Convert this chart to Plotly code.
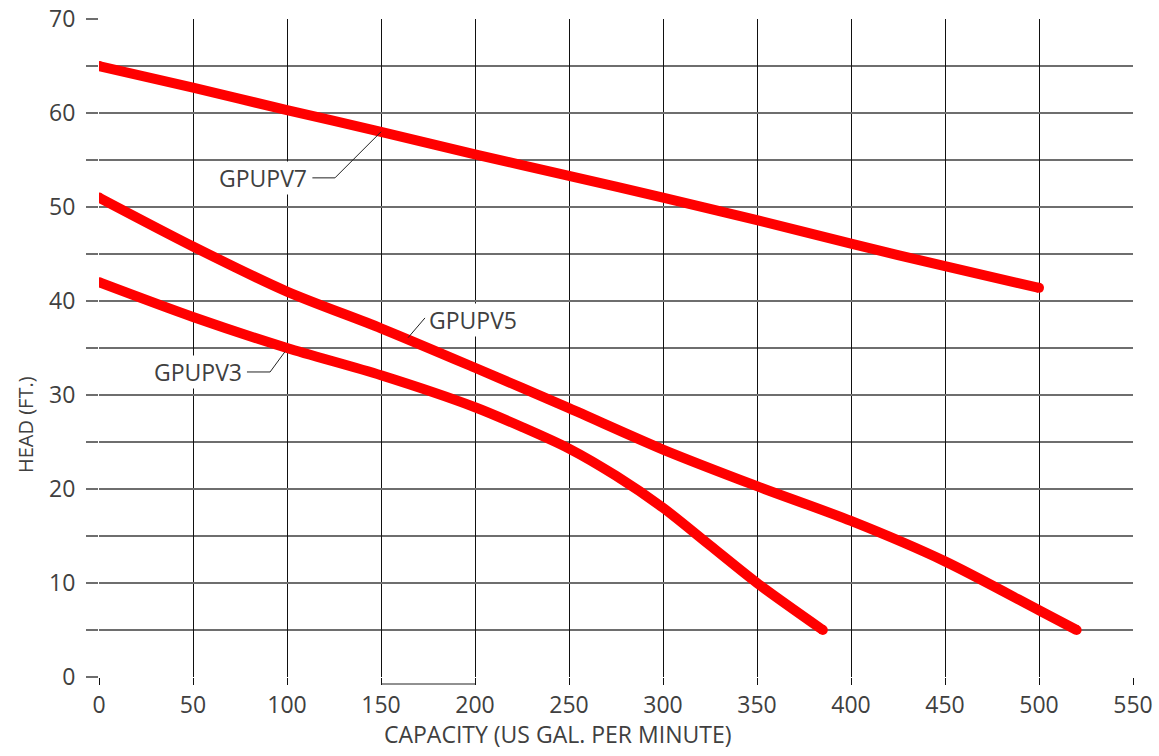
import plotly.graph_objects as go

# ---- data ----
v7_x = [0, 50, 100, 150, 200, 250, 300, 350, 400, 450, 500]
v7_y = [65, 62.7, 60.3, 58.0, 55.6, 53.3, 51.0, 48.6, 46.1, 43.7, 41.4]

v5_x = [0, 50, 100, 150, 200, 250, 300, 350, 400, 450, 500, 520]
v5_y = [51, 45.8, 41.0, 37.1, 32.9, 28.6, 24.2, 20.3, 16.6, 12.3, 7.1, 5.0]

v3_x = [0, 50, 100, 150, 200, 225, 250, 275, 300, 325, 350, 385]
v3_y = [42, 38.3, 35.0, 32.1, 28.7, 26.6, 24.3, 21.4, 18.0, 14.0, 10.0, 5.0]

series = [("GPUPV7", v7_x, v7_y), ("GPUPV5", v5_x, v5_y), ("GPUPV3", v3_x, v3_y)]

x_ticks = list(range(0, 551, 50))
y_ticks = list(range(0, 71, 10))

RED = "#ff0000"
FONT = "Open Sans"
TXT = "#404040"

fig = go.Figure()
for name, xs, ys in series:
    fig.add_trace(go.Scatter(x=xs, y=ys, mode="lines", name=name,
                             line=dict(color=RED, width=10, shape="spline", smoothing=0.8),
                             hoverinfo="skip", showlegend=False))
    fig.add_trace(go.Scatter(x=[xs[0], xs[-1]], y=[ys[0], ys[-1]], mode="markers",
                             marker=dict(color=RED, size=10), hoverinfo="skip", showlegend=False))

# leader lines for labels
fig.add_shape(type="path", path="M 113.5,53.1 L 125.5,53.1 L 150,58", xref="x", yref="y",
              line=dict(color="#222", width=1))
fig.add_shape(type="path", path="M 164.4,36.1 L 173.4,38.2", xref="x", yref="y",
              line=dict(color="#222", width=1))
fig.add_shape(type="path", path="M 78.7,32.45 L 91.0,32.45 L 98.9,34.6", xref="x", yref="y",
              line=dict(color="#222", width=1))
# small bracket under 150-200
fig.add_shape(type="line", x0=150, x1=200, xref="x", y0=-7/658, y1=-7/658, yref="paper",
              line=dict(color="#222", width=1))

lab_font = dict(family=FONT, size=23, color=TXT)
fig.add_annotation(x=111, y=53.1, text="GPUPV7", showarrow=False, xanchor="right", yanchor="middle",
                   bgcolor="white", borderpad=0, font=lab_font)
fig.add_annotation(x=175, y=38.0, text="GPUPV5", showarrow=False, xanchor="left", yanchor="middle",
                   bgcolor="white", borderpad=0, font=lab_font)
fig.add_annotation(x=76.5, y=32.45, text="GPUPV3", showarrow=False, xanchor="right", yanchor="middle",
                   bgcolor="white", borderpad=0, font=lab_font)

# axis titles
fig.add_annotation(x=244, y=-0.086, xref="x", yref="paper", text="CAPACITY (US GAL. PER MINUTE)",
                   showarrow=False, xanchor="center", yanchor="middle",
                   font=dict(family=FONT, size=23, color=TXT))
fig.add_annotation(x=-0.0706, y=0.3845, xref="paper", yref="paper", text="HEAD (FT.)", textangle=-90,
                   showarrow=False, xanchor="center", yanchor="middle",
                   font=dict(family=FONT, size=20, color=TXT))

tick_font = dict(family=FONT, size=23, color=TXT)
fig.update_xaxes(range=[0, 550], tickvals=x_ticks, ticktext=[str(v) for v in x_ticks],
                 showgrid=True, gridcolor="#111", gridwidth=1,
                 ticks="outside", ticklen=7, tickcolor="#111", tickwidth=1,
                 zeroline=False, showline=False, automargin=False, ticklabeloverflow="allow",
                 tickfont=tick_font)
fig.update_yaxes(range=[0, 70], tickvals=y_ticks, ticktext=[str(v) for v in y_ticks],
                 showgrid=True, gridcolor="#6e6e6e", gridwidth=1.6,
                 ticks="outside", ticklen=12, tickcolor="#6e6e6e", tickwidth=1.6,
                 minor=dict(dtick=5, showgrid=True, gridcolor="#6e6e6e", gridwidth=1.6,
                            ticks="outside", ticklen=12, tickcolor="#6e6e6e", tickwidth=1.6),
                 zeroline=False, showline=False, ticklabelstandoff=6, automargin=False,
                 ticklabeloverflow="allow", tickfont=tick_font)

fig.update_layout(width=1159, height=756, plot_bgcolor="white", paper_bgcolor="white",
                  margin=dict(l=99, r=26, t=19, b=79, autoexpand=False), showlegend=False)

# remove the browser's default 8px page margin so the figure fills the window exactly
fig.write_html("out.html", config={"displayModeBar": False},
               post_script="document.body.style.margin='0';document.body.style.overflow='hidden';")
